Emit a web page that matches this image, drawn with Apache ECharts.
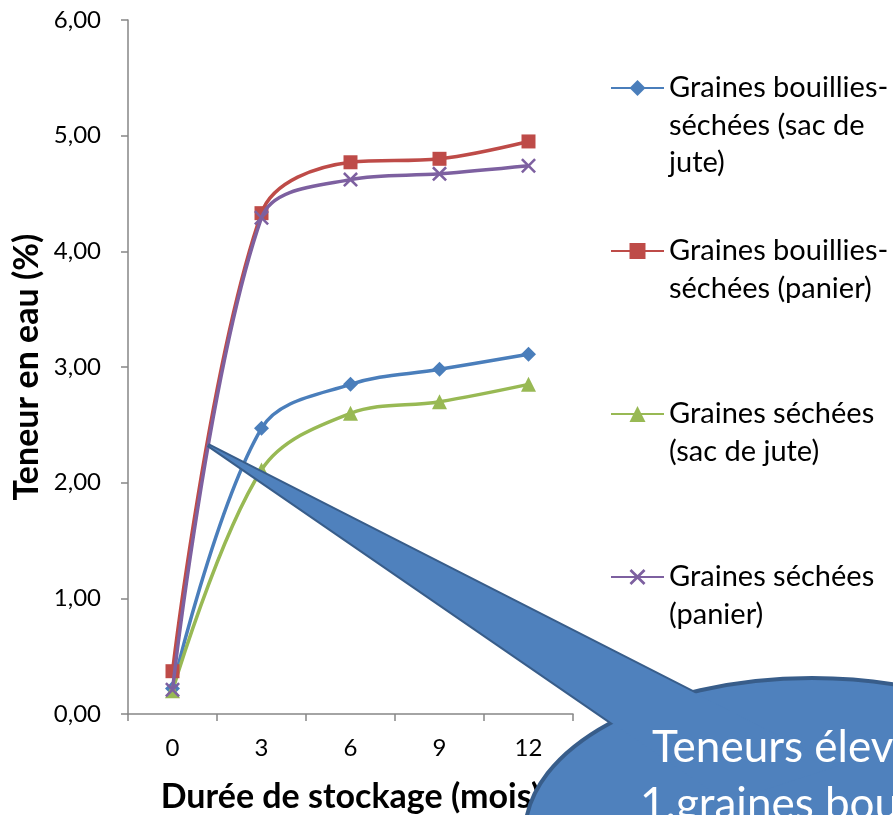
<!DOCTYPE html>
<html>
<head>
<meta charset="utf-8">
<script src="https://cdn.jsdelivr.net/npm/echarts@6/dist/echarts.min.js"></script>
<style>
  html, body { margin: 0; padding: 0; background: #fff; }
  #chart { width: 893px; height: 815px; }
</style>
</head>
<body>
<div id="chart"></div>
<script>
/* ---- données ---- */
const months = ["0", "3", "6", "9", "12"];
const seriesNames = [
  "Graines bouillies-\nséchées (sac de\njute)",
  "Graines bouillies-\nséchées (panier)",
  "Graines séchées\n(sac de jute)",
  "Graines séchées\n(panier)",
];
const bouilliesJute = [0.22, 2.47, 2.85, 2.98, 3.11];
const bouilliesPanier = [0.37, 4.33, 4.77, 4.80, 4.95];
const sechesJute = [0.20, 2.11, 2.60, 2.70, 2.85];
const sechesPanier = [0.21, 4.29, 4.62, 4.67, 4.74];
const yTicks = { min: 0, max: 6, interval: 1 };

/* ---- style ---- */
const FONT = "Lato";
const AXIS_GREY = "#868686";
const COLORS = ["#4A7EBB", "#BE4B48", "#98B954", "#7D60A0"];
const CROSS = "path://M0,1.2L1.2,0L5,3.8L8.8,0L10,1.2L6.2,5L10,8.8L8.8,10L5,6.2L1.2,10L0,8.8L3.8,5Z";
const SYMBOLS = ["diamond", "rect", "triangle", CROSS];
const SYMBOL_SIZES = [15, 14, 15, 15];

const chart = echarts.init(document.getElementById("chart"));

// légende : l'icône est centrée sur le bloc de texte, on ajoute des lignes vides
// pour que la 1re ligne tombe au niveau de l'icône (comme dans Excel)
const LH = 37.5;
const LINES = 5;
const legendFormatter = (name) => {
  const n = name.split("\n").length;
  const before = (LINES - 1) / 2;
  const after = LINES - before - n;
  return Array(before).fill(" ").concat(name.split("\n"), Array(Math.max(after, 0)).fill(" ")).join("\n");
};

const dataSets = [bouilliesJute, bouilliesPanier, sechesJute, sechesPanier];
const series = dataSets.map((d, i) => ({
  name: seriesNames[i],
  type: "line",
  data: d,
  smooth: 0.35,
  symbol: SYMBOLS[i],
  symbolSize: SYMBOL_SIZES[i],
  itemStyle: { color: COLORS[i] },
  lineStyle: { color: COLORS[i], width: 3.5 },
  z: i === 3 ? 4 : 3,
}));

// bulle (forme décorative Excel)
const FILL = "#4F81BD";
const EDGE = "#385D8A";
const tip = [208, 445];
const wedge = [tip, [838, 766], [727, 802]];
const ell = { cx: 812, cy: 834, rx: 287, ry: 156 };

chart.setOption({
  backgroundColor: "#fff",
  animation: false,
  textStyle: { fontFamily: FONT },
  grid: { left: 128, right: 320, top: 20, bottom: 101, outerBoundsMode: "none" },
  legend: {
    orient: "vertical",
    left: 610,
    top: 88 - (LINES * LH) / 2,
    padding: 0,
    itemGap: 163 - LINES * LH,
    itemWidth: 53,
    itemHeight: 20,
    formatter: legendFormatter,
    data: seriesNames,
    textStyle: { fontSize: 29, lineHeight: LH, color: "#000", fontFamily: FONT },
  },
  xAxis: {
    type: "category",
    data: months,
    name: "Durée de stockage (mois)",
    nameLocation: "middle",
    nameGap: 66,
    nameTextStyle: { fontSize: 34, fontWeight: "bold", color: "#000", fontFamily: FONT },
    axisLine: { lineStyle: { color: AXIS_GREY, width: 1.5 } },
    axisTick: { show: true, length: 7, lineStyle: { color: AXIS_GREY, width: 1.5 } },
    axisLabel: { fontSize: 24, color: "#000", margin: 22 },
  },
  yAxis: {
    type: "value",
    min: yTicks.min,
    max: yTicks.max,
    interval: yTicks.interval,
    name: "Teneur en eau (%)",
    nameLocation: "middle",
    nameGap: 84,
    nameTextStyle: { fontSize: 34, fontWeight: "bold", color: "#000", fontFamily: FONT },
    axisLine: { show: true, lineStyle: { color: AXIS_GREY, width: 1.5 } },
    axisTick: { show: true, length: 7, lineStyle: { color: AXIS_GREY, width: 1.5 } },
    splitLine: { show: false },
    axisLabel: {
      fontSize: 24,
      color: "#000",
      margin: 27,
      formatter: (v) => v.toFixed(2).replace(".", ","),
    },
  },
  series: series,
  graphic: [
    // pointe + contour
    { type: "polygon", z: 100, shape: { points: wedge }, style: { fill: FILL, stroke: EDGE, lineWidth: 4 } },
    { type: "ellipse", z: 100, shape: ell, style: { fill: FILL, stroke: EDGE, lineWidth: 4 } },
    // remplissage de la pointe par-dessus le contour de l'ellipse
    { type: "polygon", z: 101, shape: { points: wedge }, style: { fill: FILL } },
    {
      type: "text", z: 102, x: 652, y: 748,
      style: { text: "Teneurs élevées", fill: "#fff", font: "44px " + FONT, verticalAlign: "middle" },
    },
    {
      type: "text", z: 102, x: 640, y: 805,
      style: { text: "1.graines bouillies", fill: "#fff", font: "44px " + FONT, verticalAlign: "middle" },
    },
  ],
});
</script>
</body>
</html>
